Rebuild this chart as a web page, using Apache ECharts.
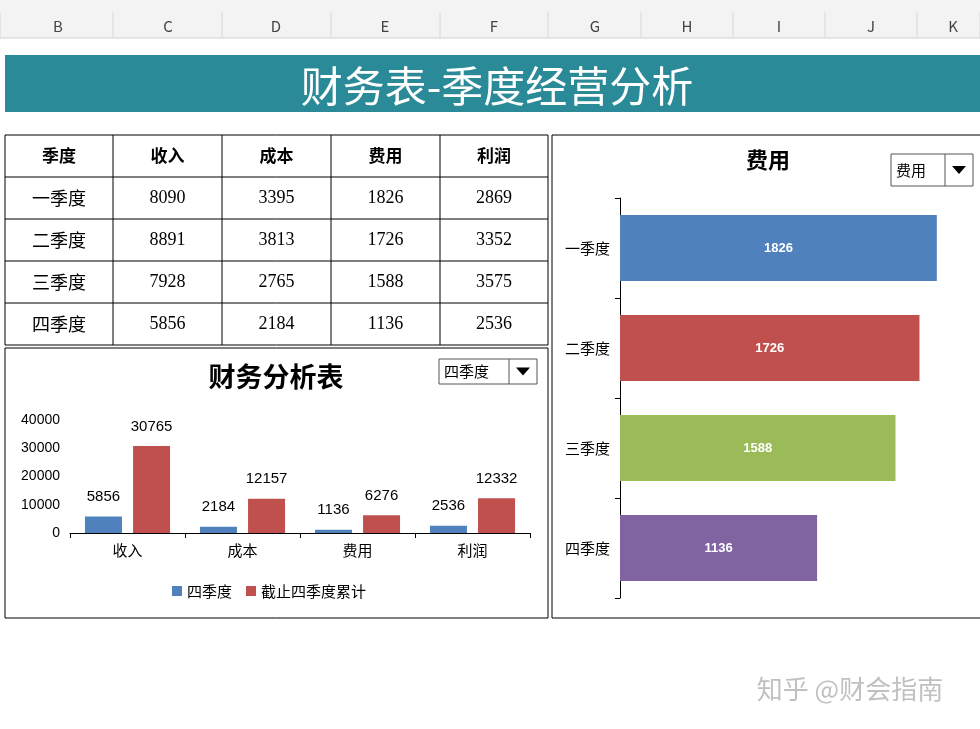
<!DOCTYPE html><html><head><meta charset="utf-8">
<script src="https://cdn.jsdelivr.net/npm/echarts@6/dist/echarts.min.js"></script>
<style>html,body{margin:0;padding:0;background:#fff}#c{width:980px;height:729px}</style></head><body><div id="c"></div>
<script>
const colLetters=['B','C','D','E','F','G','H','I','J','K'];
const colX=[58,168,276,385,494,595,687,779,871,953];
const headers=['季度','收入','成本','费用','利润'];
const quarters=['一季度','二季度','三季度','四季度'];
const income=[8090,8891,7928,5856];
const cost=[3395,3813,2765,2184];
const expense=[1826,1726,1588,1136];
const profit=[2869,3352,3575,2536];
const metrics=['收入','成本','费用','利润'];
const q4Values=[5856,2184,1136,2536];
const cumValues=[30765,12157,6276,12332];
const barColors=['#4f81bd','#c0504d','#9bbb59','#8064a2'];
const CJK='"Noto Sans CJK SC", sans-serif';
const SERIF='"Liberation Serif","DejaVu Serif",serif';

const g=[];
g.push({type:'rect',shape:{x:0,y:0,width:980,height:38},style:{fill:'#f3f3f3'}});
g.push({type:'line',shape:{x1:0,y1:38,x2:980,y2:38},style:{stroke:'#d0d0d0'}});
const bounds=[0,113,222,331,440,548,641,733,825,917,980];
bounds.forEach(x=>g.push({type:'line',shape:{x1:x,y1:12,x2:x,y2:38},style:{stroke:'#d8d8d8'}}));
colLetters.forEach((l,i)=>g.push({type:'text',x:colX[i],y:26,style:{text:l,font:'15px '+CJK,fill:'#444',align:'center',verticalAlign:'middle'}}));
g.push({type:'rect',shape:{x:5,y:55,width:975,height:57},style:{fill:'#2b8a98'}});
g.push({type:'text',x:497,y:86,style:{text:'财务表-季度经营分析',font:'42px '+CJK,fill:'#fff',align:'center',verticalAlign:'middle'}});
const tx=[5,113,222,331,440,548], ty=135, rh=42;
for(let r=0;r<=5;r++) g.push({type:'line',shape:{x1:5,y1:ty+r*rh,x2:548,y2:ty+r*rh},style:{stroke:'#000',lineWidth:1}});
tx.forEach(x=>g.push({type:'line',shape:{x1:x,y1:ty,x2:x,y2:ty+5*rh},style:{stroke:'#000',lineWidth:1}}));
headers.forEach((h,i)=>g.push({type:'text',x:(tx[i]+tx[i+1])/2,y:ty+rh/2,style:{text:h,font:'bold 17px '+CJK,fill:'#000',align:'center',verticalAlign:'middle'}}));
quarters.forEach((q,r)=>{
  const row=[q,income[r],cost[r],expense[r],profit[r]];
  row.forEach((v,i)=>g.push({type:'text',x:(tx[i]+tx[i+1])/2,y:ty+(r+1.5)*rh,style:{text:String(v),font:(i===0?'18px '+CJK:'18px '+SERIF),fill:'#000',align:'center',verticalAlign:'middle'}}));
});
g.push({type:'rect',shape:{x:5,y:348,width:543,height:270},style:{fill:'none',stroke:'#000',lineWidth:1}});
g.push({type:'rect',shape:{x:552,y:135,width:430,height:483},style:{fill:'none',stroke:'#000',lineWidth:1}});
g.push({type:'text',x:276,y:377,style:{text:'财务分析表',font:'bold 27px '+CJK,fill:'#000',align:'center',verticalAlign:'middle'}});
g.push({type:'text',x:768,y:160,style:{text:'费用',font:'bold 22px '+CJK,fill:'#000',align:'center',verticalAlign:'middle'}});
function dd(x,y,w,h,t){
  g.push({type:'rect',shape:{x,y,width:w,height:h},style:{fill:'#fff',stroke:'#555'}});
  g.push({type:'line',shape:{x1:x+w-28,y1:y,x2:x+w-28,y2:y+h},style:{stroke:'#555'}});
  g.push({type:'polygon',shape:{points:[[x+w-21,y+h/2-4],[x+w-7,y+h/2-4],[x+w-14,y+h/2+4]]},style:{fill:'#000'}});
  g.push({type:'text',x:x+5,y:y+h/2,style:{text:t,font:'15px '+CJK,fill:'#000',verticalAlign:'middle'}});
}
dd(439,359,98,25,'四季度');
dd(891,154,82,32,'费用');
g.push({type:'rect',shape:{x:172,y:586,width:10,height:10},style:{fill:barColors[0]}});
g.push({type:'text',x:187,y:591,style:{text:'四季度',font:'15px '+CJK,fill:'#000',verticalAlign:'middle'}});
g.push({type:'rect',shape:{x:246,y:586,width:10,height:10},style:{fill:barColors[1]}});
g.push({type:'text',x:261,y:591,style:{text:'截止四季度累计',font:'15px '+CJK,fill:'#000',verticalAlign:'middle'}});
g.push({type:'text',x:850,y:689,style:{text:'知乎 @财会指南',font:'26px '+CJK,fill:'rgba(150,150,150,0.6)',align:'center',verticalAlign:'middle'}});

const chart=echarts.init(document.getElementById('c'));
chart.setOption({
  animation:false,
  graphic:{elements:g},
  grid:[{left:70,top:420,width:460,height:113},{left:620,top:198,width:347,height:400}],
  xAxis:[
    {gridIndex:0,type:'category',data:metrics,axisLine:{lineStyle:{color:'#000'}},axisTick:{show:true,lineStyle:{color:'#000'}},axisLabel:{color:'#000',fontSize:15,fontFamily:CJK,margin:10}},
    {gridIndex:1,type:'value',min:0,max:2000,show:false}
  ],
  yAxis:[
    {gridIndex:0,type:'value',min:0,max:40000,interval:10000,splitLine:{show:false},axisLine:{show:false},axisTick:{show:false},axisLabel:{color:'#000',fontSize:14,fontFamily:'"Liberation Sans",sans-serif',margin:10,formatter:v=>String(v)}},
    {gridIndex:1,type:'category',data:quarters,inverse:true,axisLine:{show:true,lineStyle:{color:'#000'}},axisTick:{show:true,lineStyle:{color:'#000'}},axisLabel:{color:'#000',fontSize:15,fontFamily:CJK,margin:10}}
  ],
  series:[
    {type:'bar',xAxisIndex:0,yAxisIndex:0,data:q4Values,barWidth:37,barGap:'30%',itemStyle:{color:barColors[0]},label:{show:true,position:'top',color:'#000',fontSize:15,distance:12}},
    {type:'bar',xAxisIndex:0,yAxisIndex:0,data:cumValues,barWidth:37,itemStyle:{color:barColors[1]},label:{show:true,position:'top',color:'#000',fontSize:15,distance:12}},
    {type:'bar',xAxisIndex:1,yAxisIndex:1,barWidth:66,data:expense.map((v,i)=>({value:v,itemStyle:{color:barColors[i]}})),label:{show:true,position:'inside',color:'#fff',fontWeight:'bold',fontSize:13}}
  ]
});
</script></body></html>
